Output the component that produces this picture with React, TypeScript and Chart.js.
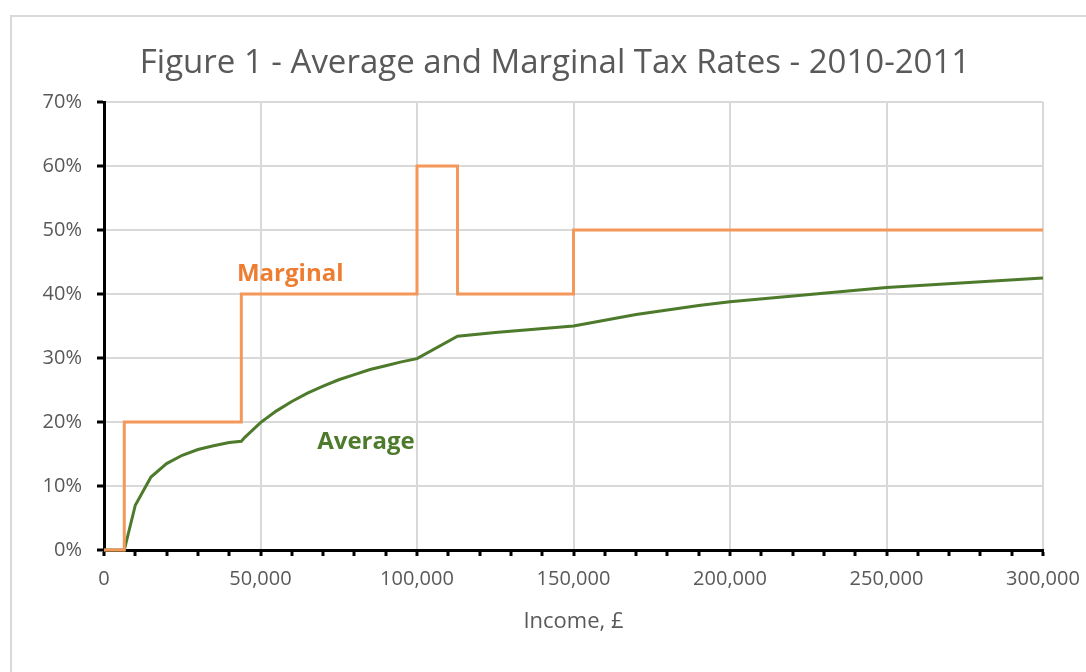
import React, { useEffect, useRef } from "react";
import { Chart, registerables } from "chart.js";

Chart.register(...registerables);

const TITLE = "Figure 1 - Average and Marginal Tax Rates - 2010-2011";
const X_TITLE = "Income, £";

// Marginal tax rate (step function), income £ vs rate %
const margIncome = [0, 6475, 6475, 43875, 43875, 100000, 100000, 112950, 112950, 150000, 150000, 300000];
const margRate = [0, 0, 20, 20, 40, 40, 60, 60, 40, 40, 50, 50];

// Average tax rate, income £ vs rate %
const avgIncome = [0, 6475, 10000, 15000, 20000, 25000, 30000, 35000, 40000, 43875, 45000, 50000, 55000, 60000, 65000, 70000, 75000, 80000, 85000, 90000, 95000, 100000, 112950, 125000, 150000, 160000, 170000, 180000, 190000, 200000, 250000, 300000];
const avgRate = [0, 0, 7.0, 11.4, 13.5, 14.8, 15.7, 16.3, 16.8, 17.0, 17.6, 19.9, 21.7, 23.2, 24.5, 25.6, 26.6, 27.4, 28.2, 28.8, 29.4, 29.9, 33.4, 34.0, 35.0, 35.9, 36.8, 37.5, 38.2, 38.8, 41.0, 42.5];

// In-chart labels
const labelTexts = ["Marginal", "Average"];
const labelX = [59500, 83700];
const labelY = [43.1, 16.9];
const labelColors = ["#ED7D31", "#4E7A2C"];

const FONT = "'Open Sans', Lato, sans-serif";
const GREY = "#595959";

export default function App() {
  const ref = useRef<HTMLCanvasElement | null>(null);

  useEffect(() => {
    if (!ref.current) return;
    const textPlugin = {
      id: "texts",
      afterDraw(chart: any) {
        const ctx = chart.ctx;
        const xs = chart.scales.x;
        const ys = chart.scales.y;
        ctx.save();
        // title
        ctx.fillStyle = GREY;
        ctx.font = `33px ${FONT}`;
        ctx.textAlign = "center";
        ctx.textBaseline = "alphabetic";
        ctx.fillText(TITLE, chart.width / 2, 56);
        // axis title
        ctx.font = `22px ${FONT}`;
        ctx.fillText(X_TITLE, (chart.chartArea.left + chart.chartArea.right) / 2, 611);
        // labels
        ctx.font = `bold 24px ${FONT}`;
        ctx.textBaseline = "middle";
        for (let i = 0; i < labelTexts.length; i++) {
          ctx.fillStyle = labelColors[i];
          ctx.fillText(labelTexts[i], xs.getPixelForValue(labelX[i]), ys.getPixelForValue(labelY[i]));
        }
        ctx.restore();
      },
    };

    const chart = new Chart(ref.current, {
      type: "scatter",
      data: {
        datasets: [
          {
            label: "Marginal",
            data: margIncome.map((x, i) => ({ x, y: margRate[i] })),
            showLine: true,
            borderColor: "#F4985A",
            borderWidth: 3,
            pointRadius: 0,
            tension: 0,
            clip: false,
          },
          {
            label: "Average",
            data: avgIncome.map((x, i) => ({ x, y: avgRate[i] })),
            showLine: true,
            borderColor: "#4E7A2C",
            borderWidth: 3,
            pointRadius: 0,
            tension: 0,
            clip: false,
          },
        ],
      },
      options: {
        responsive: false,
        animation: false,
        layout: { padding: { top: 85, right: 55, left: 0, bottom: 0 } },
        plugins: {
          legend: { display: false },
          title: { display: false },
          tooltip: { enabled: false },
        },
        scales: {
          x: {
            type: "linear",
            min: 0,
            max: 300000,
            afterFit: (s: any) => {
              s.height = 167;
            },
            border: { display: true, color: "#000", width: 3 },
            grid: {
              color: (c: any) => (c.tick && c.tick.value % 50000 === 0 ? "#d9d9d9" : "rgba(0,0,0,0)"),
              lineWidth: 2,
              tickColor: "#000",
              tickLength: 6,
              tickWidth: 3,
            },
            ticks: {
              stepSize: 10000,
              autoSkip: false,
              maxRotation: 0,
              padding: 11,
              color: GREY,
              font: { family: FONT, size: 20 },
              callback: (v: any) => (Number(v) % 50000 === 0 ? Number(v).toLocaleString("en-US") : ""),
            },
          },
          y: {
            min: 0,
            max: 70,
            afterFit: (s: any) => {
              s.width = 92;
            },
            border: { display: true, color: "#000", width: 3 },
            grid: {
              color: "#d9d9d9",
              lineWidth: 2,
              tickColor: "#000",
              tickLength: 7,
              tickWidth: 3,
            },
            ticks: {
              stepSize: 10,
              padding: 15,
              color: GREY,
              font: { family: FONT, size: 20 },
              callback: (v: any) => `${v}%`,
            },
          },
        },
      },
      plugins: [textPlugin],
    });
    return () => chart.destroy();
  }, []);

  return (
    <div style={{ position: "fixed", left: 0, top: 0, width: 1086, height: 672, overflow: "hidden", background: "#fff" }}>
      <div
        style={{
          position: "absolute",
          left: 10,
          top: 15,
          width: 1086,
          height: 700,
          border: "2px solid #d9d9d9",
        }}
      >
        <canvas ref={ref} width={1086} height={700} style={{ display: "block" }} />
      </div>
    </div>
  );
}
